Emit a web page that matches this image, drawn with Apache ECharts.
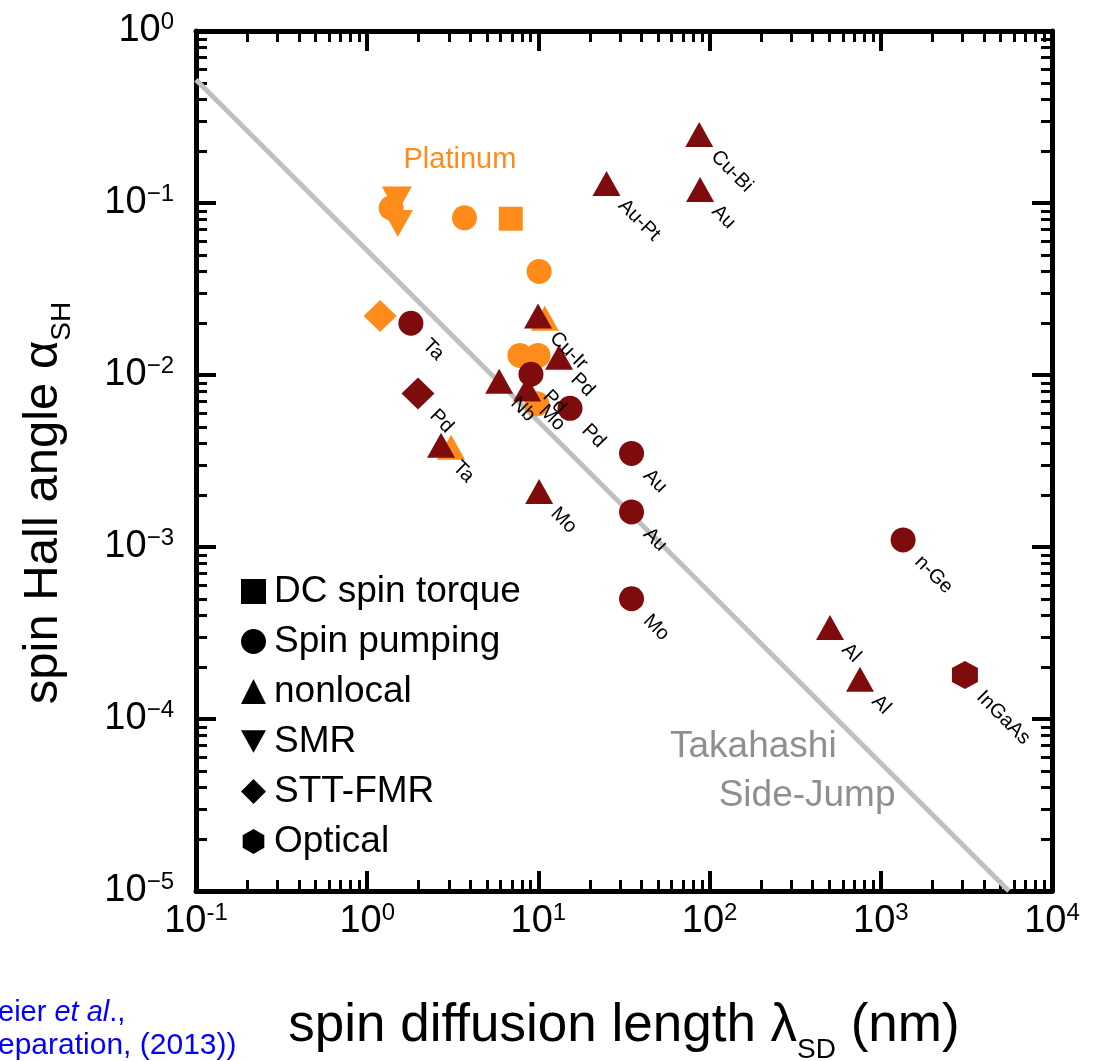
<!DOCTYPE html>
<html>
<head>
<meta charset="utf-8">
<script src="https://cdn.jsdelivr.net/npm/echarts@6/dist/echarts.min.js"></script>
<style>
  html, body { margin: 0; padding: 0; background: #fff; }
  #chart { width: 1102px; height: 1061px; }
</style>
</head>
<body>
<div id="chart"></div>
<script>
// Axis decades
const xTicks = [0.1, 1, 10, 100, 1000, 10000];
const yTicks = [1e-5, 1e-4, 1e-3, 1e-2, 1e-1, 1];

// Measurements: [spin diffusion length λ_SD (nm), spin Hall angle α_SH, material]
const dcSpinTorque = [
  [6.9, 0.081, 'Pt']
];
const spinPumping = [
  [1.38, 0.0935, 'Pt'], [3.7, 0.082, 'Pt'], [10.1, 0.040, 'Pt'],
  [7.8, 0.013, 'Pt'], [9.95, 0.013, 'Pt'], [9.8, 0.0068, 'Pt'],
  [1.8, 0.020, 'Ta'], [9.05, 0.0101, 'Pd'], [15.3, 0.0064, 'Pd'],
  [35, 0.0035, 'Au'], [35, 0.0016, 'Au'], [35, 0.0005, 'Mo'],
  [1350, 0.0011, 'n-Ge']
];
const nonlocal = [
  [10.9, 0.0214, 'Pt'], [3.09, 0.0038, 'Pt'],
  [87, 0.25, 'Cu-Bi'], [25, 0.13, 'Au-Pt'], [88, 0.12, 'Au'],
  [9.95, 0.022, 'Cu-Ir'], [13.2, 0.0127, 'Pd'], [5.9, 0.0092, 'Nb'],
  [8.6, 0.0083, 'Mo'], [2.7, 0.0039, 'Ta'], [10.1, 0.0021, 'Mo'],
  [505, 0.00034, 'Al'], [756, 0.00017, 'Al']
];
const smr = [
  [1.49, 0.104, 'Pt'], [1.51, 0.076, 'Pt']
];
const sttFmr = [
  [1.19, 0.022, 'Pt'], [1.98, 0.0078, 'Pd']
];
const optical = [
  [3100, 0.00018, 'InGaAs']
];

// Takahashi side-jump prediction (α_SH ∝ 1/λ_SD)
const takahashiLine = [[0.1, 0.52], [5600, 1e-5]];

// Text notes placed in data space
const platinumNote = [[3.48, 0.178, 'Platinum']];
const takahashiNote = [[180, 6.9e-5, 'Takahashi'], [371, 3.6e-5, 'Side-Jump']];

const FONT = "'Liberation Sans', Arial, Helvetica, sans-serif";
const PT_COLOR = '#ff8c1a';
const METAL_COLOR = '#7f0c0c';
const LINE_GRAY = '#c0c0c0';
const NOTE_GRAY = '#8f8f8f';
const CITE_BLUE = '#0000ff';

const HEXAGON = 'path://M50,0 L93.3,25 L93.3,75 L50,100 L6.7,75 L6.7,25 Z';
const DOWN_TRIANGLE = 'path://M0,0 L100,0 L50,90 Z';

function minorValues(decades) {
  const out = [];
  for (let i = 0; i < decades.length - 1; i++) {
    for (let k = 2; k <= 9; k++) out.push(+(decades[i] * k).toPrecision(3));
  }
  return out;
}
const xMinor = minorValues(xTicks);
const yMinor = minorValues(yTicks);

function decadeLabel(minus) {
  return function (v) {
    const e = Math.round(Math.log10(v));
    return '{b|10}{s|' + (e < 0 ? minus + (-e) : e) + '}';
  };
}
const tickRich = {
  b: { fontSize: 38, fontFamily: FONT, color: '#000', lineHeight: 42 },
  s: { fontSize: 24, fontFamily: FONT, color: '#000', lineHeight: 24, verticalAlign: 'top' }
};

function frameAxis(position, ticks, tickLen, tickWidth, extra) {
  return Object.assign({
    type: 'log', logBase: 10, position: position,
    axisLine: { show: true, onZero: false, lineStyle: { color: '#000', width: 5 } },
    axisTick: { show: true, inside: true, length: tickLen, customValues: ticks,
                lineStyle: { color: '#000', width: tickWidth } },
    minorTick: { show: false }, splitLine: { show: false }, minorSplitLine: { show: false },
    axisLabel: { show: false },
    silent: true
  }, extra);
}

const xRange = { min: 0.1, max: 10000 };
const yRange = { min: 1e-5, max: 1 };

// material names run diagonally down-right from each marker
const pointLabel = {
  show: true,
  position: 'inside',
  align: 'left',
  verticalAlign: 'middle',
  rotate: -45,
  offset: [24, 3],
  fontSize: 20,
  fontFamily: FONT,
  color: '#000',
  opacity: 1,
  formatter: p => p.data.material
};

function methodSeries(name, rows, symbol, size, extra) {
  return Object.assign({
    name: name,
    type: 'scatter',
    xAxisIndex: 0, yAxisIndex: 0,
    symbol: symbol,
    symbolSize: size,
    silent: true,
    itemStyle: { opacity: 1 },
    data: rows.map(r => ({
      value: [r[0], r[1]],
      material: r[2],
      itemStyle: { color: r[2] === 'Pt' ? PT_COLOR : METAL_COLOR, opacity: 1 },
      label: { show: r[2] !== 'Pt' }
    })),
    label: pointLabel,
    emphasis: { disabled: true },
    z: 3
  }, extra);
}

function noteSeries(rows, size, color) {
  return {
    type: 'scatter', xAxisIndex: 0, yAxisIndex: 0,
    symbolSize: 1, silent: true,
    itemStyle: { color: 'rgba(0,0,0,0)', opacity: 1 },
    data: rows.map(r => ({ value: [r[0], r[1]], text: r[2] })),
    label: {
      show: true, position: 'inside', align: 'center', verticalAlign: 'middle',
      fontSize: size, fontFamily: FONT, color: color, opacity: 1,
      formatter: p => p.data.text
    },
    emphasis: { disabled: true },
    z: 2
  };
}

const legendIcon = { color: '#000', opacity: 1, borderWidth: 0 };

const chart = echarts.init(document.getElementById('chart'), null, { renderer: 'canvas' });

chart.setOption({
  backgroundColor: '#fff',
  animation: false,
  grid: { left: 196, right: 50, top: 31, bottom: 170, outerBoundsMode: 'none', containLabel: false },
  xAxis: [
    frameAxis('bottom', xTicks, 20, 4, Object.assign({}, xRange, {
      axisLabel: { show: true, customValues: xTicks, margin: 10, formatter: decadeLabel('-'), rich: tickRich },
      name: 'spin diffusion length λ{sub|SD} (nm)',
      nameLocation: 'middle',
      nameGap: 97,
      nameTextStyle: {
        fontSize: 53, fontFamily: FONT, color: '#000', lineHeight: 76,
        rich: { sub: { fontSize: 28, fontFamily: FONT, color: '#000', lineHeight: 28, verticalAlign: 'bottom' } }
      }
    })),
    frameAxis('top', xTicks, 20, 4, Object.assign({}, xRange)),
    frameAxis('bottom', xMinor, 11, 3, Object.assign({}, xRange, { axisLine: { show: false } })),
    frameAxis('top', xMinor, 11, 3, Object.assign({}, xRange, { axisLine: { show: false } }))
  ],
  yAxis: [
    frameAxis('left', yTicks, 20, 4, Object.assign({}, yRange, {
      axisLabel: { show: true, customValues: yTicks, margin: 22, formatter: decadeLabel('−'), rich: tickRich },
      name: 'spin Hall angle α{sub|SH}{pad| }',
      nameLocation: 'middle',
      nameGap: 120,
      nameTextStyle: {
        fontSize: 49, fontFamily: FONT, color: '#000', lineHeight: 66,
        rich: {
          sub: { fontSize: 28, fontFamily: FONT, color: '#000', lineHeight: 28, verticalAlign: 'bottom' },
          pad: { fontSize: 10, width: 84 }
        }
      }
    })),
    frameAxis('right', yTicks, 20, 4, Object.assign({}, yRange)),
    frameAxis('left', yMinor, 11, 3, Object.assign({}, yRange, { axisLine: { show: false } })),
    frameAxis('right', yMinor, 11, 3, Object.assign({}, yRange, { axisLine: { show: false } }))
  ],
  legend: {
    orient: 'vertical',
    left: 236,
    top: 568,
    itemWidth: 25,
    itemHeight: 25,
    itemGap: 13,
    selectedMode: false,
    itemStyle: legendIcon,
    textStyle: { fontSize: 37, fontFamily: FONT, color: '#000', padding: [0, 0, 0, 3] },
    data: [
      { name: 'DC spin torque', icon: 'rect', itemStyle: legendIcon },
      { name: 'Spin pumping', icon: 'circle', itemStyle: legendIcon },
      { name: 'nonlocal', icon: 'triangle', itemStyle: legendIcon },
      { name: 'SMR', icon: DOWN_TRIANGLE, itemStyle: legendIcon },
      { name: 'STT-FMR', icon: 'diamond', itemStyle: legendIcon },
      { name: 'Optical', icon: HEXAGON, itemStyle: legendIcon }
    ]
  },
  graphic: [
    {
      type: 'text', left: -2, top: 998, silent: true,
      style: {
        text: '{r|eier }{i|et al}{r|.,}',
        rich: {
          r: { fontSize: 29, fontFamily: FONT, fill: CITE_BLUE },
          i: { fontSize: 29, fontFamily: FONT, fontStyle: 'italic', fill: CITE_BLUE }
        }
      }
    },
    {
      type: 'text', left: -2, top: 1031, silent: true,
      style: { text: 'eparation, (2013))', fontSize: 30, fontFamily: FONT, fill: CITE_BLUE }
    }
  ],
  series: [
    {
      name: 'Takahashi side-jump',
      type: 'line',
      xAxisIndex: 0, yAxisIndex: 0,
      data: takahashiLine,
      symbol: 'none',
      silent: true,
      clip: true,
      lineStyle: { color: LINE_GRAY, width: 5 },
      emphasis: { disabled: true },
      z: 1
    },
    noteSeries(platinumNote, 29, PT_COLOR),
    noteSeries(takahashiNote, 37, NOTE_GRAY),
    methodSeries('DC spin torque', dcSpinTorque, 'rect', 24),
    methodSeries('Spin pumping', spinPumping, 'circle', 25),
    methodSeries('nonlocal', nonlocal, 'triangle', [28, 25]),
    methodSeries('SMR', smr, 'triangle', [30, 27], { symbolRotate: 180 }),
    methodSeries('STT-FMR', sttFmr, 'diamond', [33, 32]),
    methodSeries('Optical', optical, HEXAGON, [26, 28])
  ]
});
</script>
</body>
</html>
